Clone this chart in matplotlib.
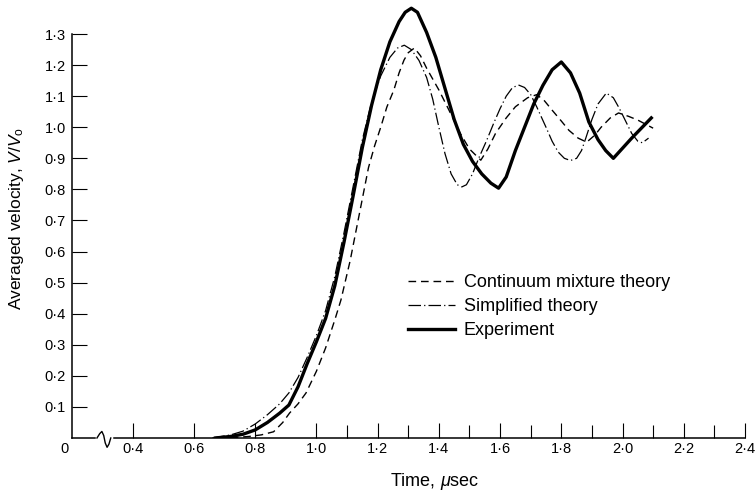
import matplotlib
matplotlib.use("Agg")
import matplotlib.pyplot as plt

plt.rcParams['font.family'] = ['Liberation Sans', 'DejaVu Sans']
plt.rcParams['mathtext.fontset'] = 'custom'
plt.rcParams['mathtext.rm'] = 'Liberation Sans'
plt.rcParams['mathtext.it'] = 'Liberation Sans:italic'

# 实验曲线 (粗实线)
exp_t = [0.67, 0.72, 0.76, 0.80, 0.84, 0.88, 0.91, 0.94, 0.97, 1.00, 1.03, 1.06, 1.09,
         1.12, 1.15, 1.18, 1.21, 1.24, 1.27, 1.29, 1.31, 1.33, 1.36, 1.39, 1.42, 1.45,
         1.48, 1.51, 1.54, 1.57, 1.595, 1.62, 1.65, 1.68, 1.71, 1.74, 1.77, 1.80, 1.83,
         1.86, 1.89, 1.92, 1.945, 1.97, 2.03, 2.094]
exp_v = [0.000, 0.005, 0.012, 0.026, 0.050, 0.080, 0.106, 0.165, 0.240, 0.310, 0.385,
         0.490, 0.630, 0.780, 0.935, 1.070, 1.185, 1.275, 1.340, 1.370, 1.383, 1.370,
         1.305, 1.225, 1.125, 1.025, 0.945, 0.890, 0.850, 0.820, 0.804, 0.840, 0.925,
         1.000, 1.075, 1.135, 1.185, 1.210, 1.175, 1.110, 1.017, 0.960, 0.925, 0.900,
         0.965, 1.030]

# 简化理论 (点划线)
simp_t = [0.66, 0.72, 0.76, 0.80, 0.84, 0.88, 0.91, 0.94, 0.97, 1.00, 1.03, 1.06, 1.09,
          1.12, 1.15, 1.18, 1.21, 1.24, 1.265, 1.287, 1.31, 1.335, 1.36, 1.38, 1.40,
          1.42, 1.44, 1.46, 1.475, 1.49, 1.51, 1.53, 1.555, 1.58, 1.60, 1.62, 1.64,
          1.66, 1.68, 1.70, 1.72, 1.75, 1.77, 1.79, 1.81, 1.83, 1.85, 1.866, 1.88,
          1.90, 1.92, 1.947, 1.97, 1.99, 2.01, 2.03, 2.05, 2.065, 2.085]
simp_v = [0.000, 0.010, 0.022, 0.045, 0.075, 0.110, 0.145, 0.195, 0.260, 0.330, 0.410,
          0.520, 0.660, 0.810, 0.960, 1.080, 1.165, 1.225, 1.255, 1.264, 1.250, 1.215,
          1.160, 1.090, 1.000, 0.915, 0.850, 0.815, 0.808, 0.815, 0.850, 0.900, 0.955,
          1.015, 1.060, 1.100, 1.127, 1.136, 1.128, 1.105, 1.065, 1.000, 0.955, 0.920,
          0.900, 0.893, 0.900, 0.925, 0.965, 1.025, 1.075, 1.110, 1.095, 1.060, 1.020,
          0.980, 0.955, 0.950, 0.965]

# 连续混合理论 (虚线)
cont_t = [0.72, 0.78, 0.82, 0.86, 0.89, 0.912, 0.94, 0.966, 1.00, 1.03, 1.06, 1.08,
          1.11, 1.14, 1.17, 1.19, 1.21, 1.23, 1.253, 1.27, 1.286, 1.30, 1.32, 1.34,
          1.36, 1.38, 1.40, 1.433, 1.47, 1.50, 1.537, 1.56, 1.585, 1.62, 1.65, 1.69,
          1.72, 1.745, 1.77, 1.80, 1.825, 1.855, 1.883, 1.91, 1.93, 1.96, 1.987, 2.02,
          2.05, 2.075, 2.10]
cont_v = [0.000, 0.005, 0.010, 0.020, 0.050, 0.080, 0.110, 0.145, 0.215, 0.290, 0.380,
          0.444, 0.570, 0.720, 0.870, 0.940, 1.000, 1.065, 1.120, 1.175, 1.216, 1.240,
          1.255, 1.230, 1.190, 1.155, 1.120, 1.055, 0.980, 0.930, 0.894, 0.930, 0.980,
          1.030, 1.066, 1.095, 1.105, 1.085, 1.055, 1.020, 0.990, 0.965, 0.952, 0.975,
          1.000, 1.030, 1.046, 1.035, 1.023, 1.010, 0.997]

# 坐标轴断裂符号
brk_t = [0.283, 0.292, 0.299, 0.305, 0.310, 0.316, 0.322, 0.328]
brk_v = [0.0, 0.014, 0.021, 0.008, -0.016, -0.030, -0.020, 0.0]

xticks = [0.4, 0.6, 0.8, 1.0, 1.2, 1.4, 1.6, 1.8, 2.0, 2.2, 2.4]
xlabels = ['0·4', '0·6', '0·8', '1·0', '1·2', '1·4', '1·6', '1·8', '2·0', '2·2', '2·4']
xminor = [1.1, 1.3, 1.5, 1.7, 1.9, 2.1, 2.3]
yticks = [0.1, 0.2, 0.3, 0.4, 0.5, 0.6, 0.7, 0.8, 0.9, 1.0, 1.1, 1.2, 1.3]
ylabels = ['0·1', '0·2', '0·3', '0·4', '0·5', '0·6', '0·7', '0·8', '0·9', '1·0',
           '1·1', '1·2', '1·3']

fig = plt.figure(figsize=(7.55, 4.93), dpi=100)
ax = fig.add_axes([0.0948, 0.1116, 0.8919, 0.8824])

ax.plot(cont_t, cont_v, color='black', lw=1.0, dashes=(5.5, 3.5),
        label='Continuum mixture theory')
ax.plot(simp_t, simp_v, color='black', lw=0.9, dashes=(10, 2.5, 1, 2.5),
        label='Simplified theory')
ax.plot(exp_t, exp_v, color='black', lw=2.4, label='Experiment')

ax.set_xlim(0.2, 2.4)
ax.set_ylim(0, 1.4)
ax.spines['top'].set_visible(False)
ax.spines['right'].set_visible(False)
ax.spines['left'].set_bounds(0, 1.3)
ax.spines['left'].set_linewidth(1.1)
ax.spines['bottom'].set_linewidth(1.1)

ax.set_xticks(xticks)
ax.set_xticklabels(xlabels)
ax.set_xticks(xminor, minor=True)
ax.set_yticks(yticks)
ax.set_yticklabels(ylabels)
ax.tick_params(axis='both', which='both', direction='in', length=10.5, width=0.8,
               labelsize=10.5)
ax.tick_params(axis='x', which='minor', length=9.5)
ax.tick_params(axis='x', pad=3)
ax.tick_params(axis='y', pad=4)

# 原点 "0"
ax.annotate('0', xy=(0.2, 0), xytext=(-7, -4), textcoords='offset pixels',
            ha='center', va='top', fontsize=10.5, annotation_clip=False)

# 断裂符号
ax.plot([0.283, 0.328], [0, 0], color='white', lw=2.5, zorder=3, clip_on=False)
ax.plot(brk_t, brk_v, color='black', lw=1.0, zorder=4, clip_on=False)

fig.text(435 / 755, 1 - 482 / 493, 'Time, $\\mu$sec', ha='center', va='center',
         fontsize=13)
fig.text(17 / 755, 1 - 218 / 493, 'Averaged velocity, $V/V_{\\rm o}$', ha='center',
         va='center', rotation=90, fontsize=12.5)

ax.legend(loc='upper left', bbox_to_anchor=(408 / 755, 1 - 274 / 493),
          bbox_transform=fig.transFigure, frameon=False, fontsize=13,
          handlelength=2.6, handletextpad=0.5, borderpad=0, borderaxespad=0,
          labelspacing=0.4)

fig.savefig('out.png', dpi=100)
